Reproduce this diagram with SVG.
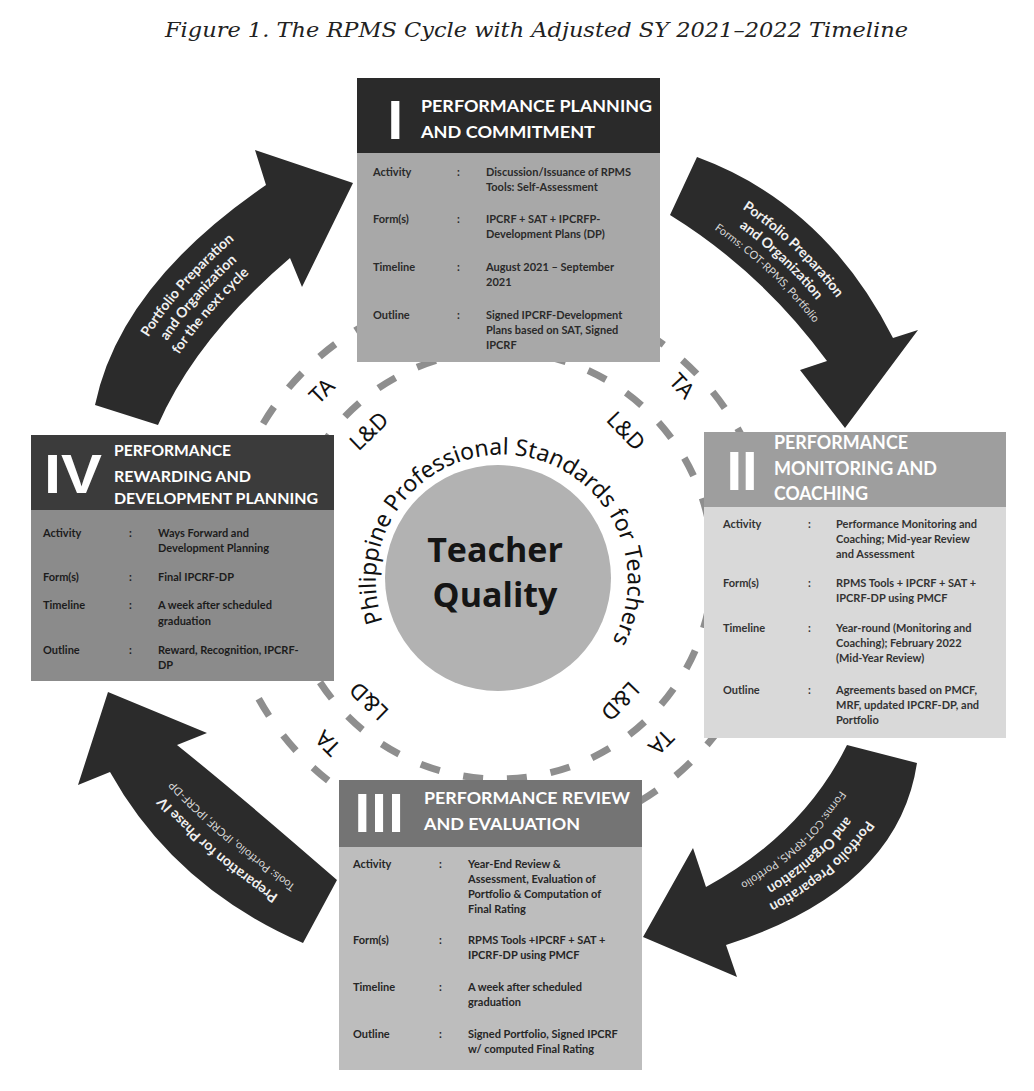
<svg xmlns="http://www.w3.org/2000/svg" width="1034" height="1091" viewBox="0 0 1034 1091">
<defs>
<style>
.title{font-family:"DejaVu Serif","Liberation Serif",serif;font-style:italic;font-size:21px;fill:#222}
.ring{fill:none;stroke:#8e8e8e;stroke-width:7;stroke-dasharray:20 24}
.lab{font-family:"Noto Sans","Liberation Sans",sans-serif;font-size:22px;fill:#111;text-anchor:middle;dominant-baseline:central}
.ppst{font-family:"Noto Sans","Liberation Sans",sans-serif;font-size:23px;fill:#111}
.tq{font-family:"Open Sans","DejaVu Sans",sans-serif;font-weight:700;font-size:34px;fill:#151515;text-anchor:middle}
.arrow{fill:#2b2b2b}
.at{font-family:Lato,"Liberation Sans",sans-serif;font-weight:700;font-size:14px;fill:#f0f0f0}
.as{font-family:Lato,"Liberation Sans",sans-serif;font-weight:400;font-size:11px;fill:#d6d6d6}
.num{font-family:"Liberation Sans",Arial,sans-serif;font-weight:700;font-size:56px;fill:#ffffff}
.ht{font-family:Lato,"Liberation Sans",sans-serif;font-weight:700;fill:#ffffff}
.bt{font-family:Lato,"Liberation Sans",sans-serif;font-weight:700;font-size:11px}
</style>
</defs>
<rect x="0" y="0" width="1034" height="1091" fill="#ffffff"/>
<text class="title" x="165" y="37" textLength="743" lengthAdjust="spacingAndGlyphs">Figure 1. The RPMS Cycle with Adjusted SY 2021–2022 Timeline</text>

<g id="rings">
<circle class="ring" cx="499" cy="565" r="275"/>
<circle class="ring" cx="499" cy="565" r="214"/>
<text class="lab" transform="translate(321,390) rotate(-45)">TA</text>
<text class="lab" transform="translate(368,430) rotate(-44)">L&amp;D</text>
<text class="lab" transform="translate(683,385) rotate(47)">TA</text>
<text class="lab" transform="translate(627,430) rotate(46)">L&amp;D</text>
<text class="lab" transform="translate(621,702) rotate(134)">L&amp;D</text>
<text class="lab" transform="translate(662,743) rotate(135)">TA</text>
<text class="lab" transform="translate(368,702) rotate(224)">L&amp;D</text>
<text class="lab" transform="translate(327,744) rotate(225)">TA</text>
</g>

<g id="center">
<circle cx="498" cy="578" r="113" fill="#b2b2b2"/>
<path id="ppstPath" d="M383.6,624.1 A126,126 0 1 1 611.1,643.4" fill="none"/>
<text class="ppst"><textPath href="#ppstPath" startOffset="50%" text-anchor="middle">Philippine Professional Standards for Teachers</textPath></text>
<text class="tq" x="495" y="562">Teacher</text>
<text class="tq" x="495" y="607">Quality</text>
</g>

<g id="connectors">
<g id="arrow-1-2">
<path class="arrow" d="M697,157 Q825,204 893,338 L918,330 L845,428 L800,370 L827,361 Q762,272 670,215 Z"/>
<path id="a1l1" d="M687,178.5 Q801.7,229.2 868.6,346.5" fill="none"/>
<path id="a1l2" d="M680.8,191.8 Q787.2,244.8 853.4,351.8" fill="none"/>
<path id="a1l3" d="M674.9,204.6 Q773.3,259.8 838.9,356.9" fill="none"/>
<text class="at"><textPath href="#a1l1" startOffset="51%" text-anchor="middle">Portfolio Preparation</textPath></text>
<text class="at"><textPath href="#a1l2" startOffset="51%" text-anchor="middle">and Organization</textPath></text>
<text class="as"><textPath href="#a1l3" startOffset="51%" text-anchor="middle">Forms: COT-RPMS, Portfolio</textPath></text>
</g>
<g id="arrow-2-3">
<path class="arrow" d="M917,763 Q898,890 726,945 L737,977 L643,937 L693,848 L706,887 Q803,834 847,745 Z"/>
<path id="a2l1" d="M893.9,757.1 Q866.7,871.5 719.4,925.9" fill="none"/>
<path id="a2l2" d="M877.8,752.9 Q844.8,858.6 714.8,912.5" fill="none"/>
<path id="a2l3" d="M861.7,748.8 Q823,845.8 710.2,899.2" fill="none"/>
<text class="at"><textPath href="#a2l1" startOffset="53%" text-anchor="middle">Portfolio Preparation</textPath></text>
<text class="at"><textPath href="#a2l2" startOffset="53%" text-anchor="middle">and Organization</textPath></text>
<text class="as"><textPath href="#a2l3" startOffset="53%" text-anchor="middle">Forms: COT-RPMS, Portfolio</textPath></text>
</g>
<g id="arrow-3-4">
<path class="arrow" d="M303,943 Q174,887 110,772 L78,785 L108,692 L207,733 L177,745 Q243,798 337,880 Z"/>
<path id="a3l1" d="M316.3,918.4 Q200.9,852.3 136.1,761.5" fill="none"/>
<path id="a3l2" d="M323.7,904.6 Q216.1,832.7 150.9,755.5" fill="none"/>
<text class="at" font-size="14.5"><textPath href="#a3l1" startOffset="50%" text-anchor="middle">Preparation for Phase IV</textPath></text>
<text class="as"><textPath href="#a3l2" startOffset="50%" text-anchor="middle">Tools: Portfolio, IPCRF, IPCRF-DP</textPath></text>
</g>
<g id="arrow-4-1">
<path class="arrow" d="M95,405 Q120,285 266,185 L255,150 L353,183 L302,287 L290,258 Q196,338 158,425 Z"/>
<path id="a4l1" d="M115.8,411.6 Q145.1,302.5 273.9,209.1" fill="none"/>
<path id="a4l2" d="M130.3,416.2 Q162.6,314.7 279.4,225.9" fill="none"/>
<path id="a4l3" d="M144.8,420.8 Q180,326.9 285,242.7" fill="none"/>
<text class="at"><textPath href="#a4l1" startOffset="56%" text-anchor="middle">Portfolio Preparation</textPath></text>
<text class="at"><textPath href="#a4l2" startOffset="56%" text-anchor="middle">and Organization</textPath></text>
<text class="at" font-size="13"><textPath href="#a4l3" startOffset="56%" text-anchor="middle">for the next cycle</textPath></text>
</g>
</g>

<g id="phase-1">
<rect x="357" y="78" width="303" height="75" fill="#2a2a2a"/>
<rect x="357" y="153" width="303" height="209" fill="#a8a8a8"/>
<text class="num" x="387.4" y="139">I</text>
<text class="ht" x="421" y="112" font-size="17" textLength="231" lengthAdjust="spacingAndGlyphs">PERFORMANCE PLANNING</text>
<text class="ht" x="421" y="138" font-size="17" textLength="174" lengthAdjust="spacingAndGlyphs">AND COMMITMENT</text>
<g class="bt" fill="#2a2a2a">
<text x="373" y="176">Activity</text><text x="457" y="176">:</text>
<text x="486" y="176">Discussion/Issuance of RPMS</text><text x="486" y="191">Tools: Self-Assessment</text>
<text x="373" y="223">Form(s)</text><text x="457" y="223">:</text>
<text x="486" y="223">IPCRF + SAT + IPCRFP-</text><text x="486" y="238">Development Plans (DP)</text>
<text x="373" y="271">Timeline</text><text x="457" y="271">:</text>
<text x="486" y="271">August 2021 – September</text><text x="486" y="286">2021</text>
<text x="373" y="319">Outline</text><text x="457" y="319">:</text>
<text x="486" y="319">Signed IPCRF-Development</text><text x="486" y="334">Plans based on SAT, Signed</text><text x="486" y="349">IPCRF</text>
</g>
</g>

<g id="phase-2">
<rect x="704" y="432" width="302" height="75" fill="#9e9e9e"/>
<rect x="704" y="507" width="302" height="231" fill="#d9d9d9"/>
<text class="num" x="726.4" y="490">II</text>
<text class="ht" x="774" y="449" font-size="18" textLength="134" lengthAdjust="spacingAndGlyphs">PERFORMANCE</text>
<text class="ht" x="774" y="475" font-size="18" textLength="163" lengthAdjust="spacingAndGlyphs">MONITORING AND</text>
<text class="ht" x="774" y="500" font-size="18" textLength="94" lengthAdjust="spacingAndGlyphs">COACHING</text>
<g class="bt" fill="#333333">
<text x="723" y="528">Activity</text><text x="808" y="528">:</text>
<text x="836" y="528">Performance Monitoring and</text><text x="836" y="543">Coaching; Mid-year Review</text><text x="836" y="558">and Assessment</text>
<text x="723" y="587">Form(s)</text><text x="808" y="587">:</text>
<text x="836" y="587">RPMS Tools + IPCRF + SAT +</text><text x="836" y="602">IPCRF-DP using PMCF</text>
<text x="723" y="632">Timeline</text><text x="808" y="632">:</text>
<text x="836" y="632">Year-round (Monitoring and</text><text x="836" y="647">Coaching); February 2022</text><text x="836" y="662">(Mid-Year Review)</text>
<text x="723" y="694">Outline</text><text x="808" y="694">:</text>
<text x="836" y="694">Agreements based on PMCF,</text><text x="836" y="709">MRF, updated IPCRF-DP, and</text><text x="836" y="724">Portfolio</text>
</g>
</g>

<g id="phase-3">
<rect x="339" y="780" width="303" height="67" fill="#747474"/>
<rect x="339" y="847" width="303" height="223" fill="#bdbdbd"/>
<text class="num" x="354.4" y="832" letter-spacing="1.4">III</text>
<text class="ht" x="424" y="804" font-size="17" textLength="206" lengthAdjust="spacingAndGlyphs">PERFORMANCE REVIEW</text>
<text class="ht" x="424" y="830" font-size="17" textLength="156" lengthAdjust="spacingAndGlyphs">AND EVALUATION</text>
<g class="bt" fill="#262626">
<text x="353" y="868">Activity</text><text x="439" y="868">:</text>
<text x="468" y="868">Year-End Review &amp;</text><text x="468" y="883">Assessment, Evaluation of</text><text x="468" y="898">Portfolio &amp; Computation of</text><text x="468" y="913">Final Rating</text>
<text x="353" y="944">Form(s)</text><text x="439" y="944">:</text>
<text x="468" y="944">RPMS Tools +IPCRF + SAT +</text><text x="468" y="959">IPCRF-DP using PMCF</text>
<text x="353" y="991">Timeline</text><text x="439" y="991">:</text>
<text x="468" y="991">A week after scheduled</text><text x="468" y="1006">graduation</text>
<text x="353" y="1038">Outline</text><text x="439" y="1038">:</text>
<text x="468" y="1038">Signed Portfolio, Signed IPCRF</text><text x="468" y="1053">w/ computed Final Rating</text>
</g>
</g>

<g id="phase-4">
<rect x="31" y="435" width="303" height="75" fill="#3b3b3b"/>
<rect x="31" y="510" width="303" height="171" fill="#8b8b8b"/>
<text class="num" x="44" y="493" textLength="58" lengthAdjust="spacingAndGlyphs">IV</text>
<text class="ht" x="114" y="456" font-size="15.5" textLength="117" lengthAdjust="spacingAndGlyphs">PERFORMANCE</text>
<text class="ht" x="114" y="482" font-size="15.5" textLength="137" lengthAdjust="spacingAndGlyphs">REWARDING AND</text>
<text class="ht" x="114" y="504" font-size="15.5" textLength="204" lengthAdjust="spacingAndGlyphs">DEVELOPMENT  PLANNING</text>
<g class="bt" fill="#1c1c1c">
<text x="43" y="537">Activity</text><text x="129" y="537">:</text>
<text x="158" y="537">Ways Forward and</text><text x="158" y="552">Development Planning</text>
<text x="43" y="581">Form(s)</text><text x="129" y="581">:</text>
<text x="158" y="581">Final IPCRF-DP</text>
<text x="43" y="609">Timeline</text><text x="129" y="609">:</text>
<text x="158" y="609">A week after scheduled</text><text x="158" y="625">graduation</text>
<text x="43" y="654">Outline</text><text x="129" y="654">:</text>
<text x="158" y="654">Reward, Recognition, IPCRF-</text><text x="158" y="669">DP</text>
</g>
</g>
</svg>
